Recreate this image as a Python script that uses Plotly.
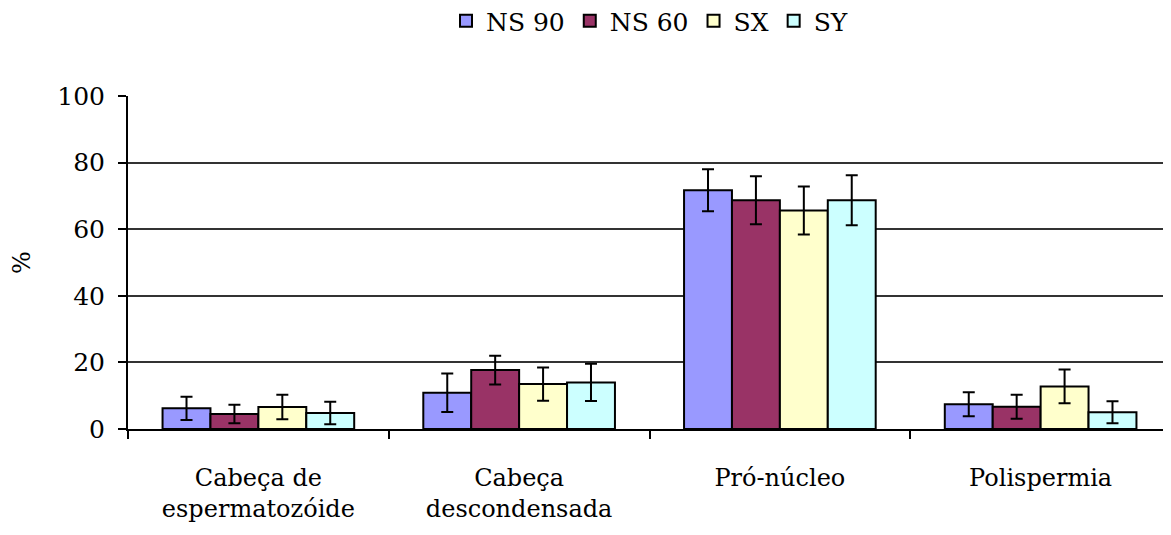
import plotly.graph_objects as go

categories = ["Cabeça de<br>espermatozóide", "Cabeça<br>descondensada", "Pró-núcleo", "Polispermia"]
series_names = ["NS 90", "NS 60", "SX", "SY"]
ns90 = [6.2, 10.9, 71.7, 7.4]
ns60 = [4.5, 17.7, 68.7, 6.7]
sx = [6.6, 13.5, 65.6, 12.8]
sy = [4.8, 14.0, 68.7, 5.0]
ns90_err = [3.5, 5.8, 6.3, 3.6]
ns60_err = [2.8, 4.3, 7.2, 3.6]
sx_err = [3.7, 5.0, 7.2, 5.1]
sy_err = [3.4, 5.6, 7.5, 3.3]
colors = ["#9999FF", "#993366", "#FFFFCC", "#CCFFFF"]
y_ticks = [0, 20, 40, 60, 80, 100]

values = [ns90, ns60, sx, sy]
errors = [ns90_err, ns60_err, sx_err, sy_err]

fig = go.Figure()
for name, vals, errs, col in zip(series_names, values, errors, colors):
    fig.add_trace(go.Bar(
        name=name, x=categories, y=vals,
        marker=dict(color=col, line=dict(color="black", width=2)),
        error_y=dict(type="data", array=errs, visible=True, color="black", thickness=2, width=6),
    ))

ff = "DejaVu Serif"
fig.update_layout(
    width=1163, height=527,
    margin=dict(l=120, r=0, t=88, b=106, autoexpand=False),
    paper_bgcolor="white", plot_bgcolor="white",
    barmode="group", bargap=0.265, bargroupgap=0,
    font=dict(family=ff, size=24, color="black"),
    legend=dict(orientation="h", x=0.5, xanchor="center", y=1.225, yanchor="middle",
                font=dict(family=ff, size=25), itemwidth=30, traceorder="normal"),
    showlegend=True,
)
fig.update_xaxes(
    showline=True, linecolor="black", linewidth=2,
    ticks="outside", ticklen=8, tickwidth=2, tickcolor="black",
    tickson="boundaries", showgrid=False, automargin=False,
    tickfont=dict(family=ff, size=24), ticklabelstandoff=26,
)
fig.update_yaxes(
    range=[0, 100], tickvals=y_ticks,
    showline=True, linecolor="black", linewidth=2,
    ticks="outside", ticklen=8, tickwidth=2, tickcolor="black",
    showgrid=True, gridcolor="#333333", gridwidth=2, automargin=False,
    tickfont=dict(family=ff, size=25), ticklabelstandoff=8,
    title=dict(text="%", font=dict(family=ff, size=24), standoff=32),
    zeroline=False,
)
fig.write_html("out.html")
